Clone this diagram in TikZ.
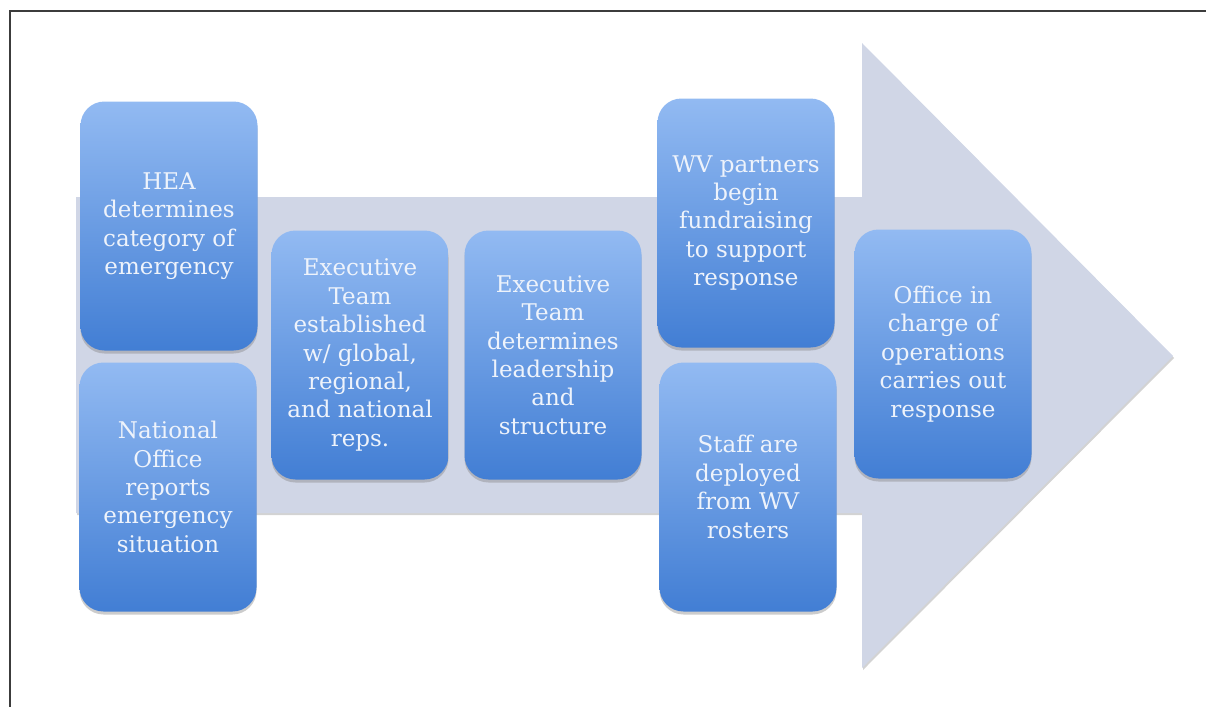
\documentclass[tikz,border=0pt]{standalone}
\usepackage{fontspec}
\setmainfont{DejaVu Serif}
\usetikzlibrary{shadows}

\definecolor{arrowgray}{RGB}{208,214,230}
\definecolor{boxtop}{RGB}{146,186,242}
\definecolor{boxbot}{RGB}{66,126,212}
\definecolor{boxtext}{RGB}{238,243,251}
\definecolor{framegray}{RGB}{60,60,60}

\begin{document}
\begin{tikzpicture}
    [x=0.5pt, y=-0.5pt,
    stage/.style={rectangle, rounded corners=12pt, minimum width=88.5pt, minimum height=124.5pt,
        inner sep=2pt, align=center, top color=boxtop, bottom color=boxbot, text=boxtext,
        font=\fontsize{11.5}{14.2}\selectfont,
        drop shadow={shadow xshift=0pt, shadow yshift=-1.5pt, opacity=0.4}},
    frame/.style={framegray, line width=0.8pt},
    bigarrow/.style={arrowgray, drop shadow={shadow xshift=0.5pt, shadow yshift=-1pt, opacity=0.35}}]

    \useasboundingbox (0,0) rectangle (1206,707);

    % frame, only top and left edges show
    \draw[frame] (10,707) -- (10,11) -- (1206,11);

    % big arrow behind the stages
    \fill[bigarrow] (76,197) -- (862,197) -- (862,43) -- (1173,356)
        -- (862,668) -- (862,513) -- (76,513) -- cycle;

    \node[stage] (hea) at (169,226) {HEA\\determines\\category of\\emergency};
    \node[stage] (nat) at (168,487) {National\\Office\\reports\\emergency\\situation};
    \node[stage] (exec) at (360,355) {Executive\\Team\\established\\w/ global,\\regional,\\and national\\reps.};
    \node[stage] (lead) at (553,355) {Executive\\Team\\determines\\leadership\\and\\structure};
    \node[stage] (fund) at (746,223) {WV partners\\begin\\fundraising\\to support\\response};
    \node[stage] (staff) at (748,487) {Staff are\\deployed\\from WV\\rosters};
    \node[stage] (ops) at (943,354) {Office in\\charge of\\operations\\carries out\\response};

\end{tikzpicture}
\end{document}
